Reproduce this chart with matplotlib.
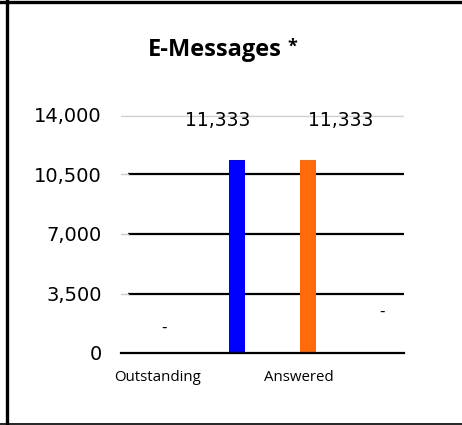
import matplotlib
matplotlib.use("Agg")
import matplotlib.pyplot as plt
from matplotlib.lines import Line2D

# ---- data ----
categories = ["Outstanding", "Answered"]
series_names = ["Outstanding", "Blue", "Orange", "Answered"]
values = [0, 11333, 11333, 0]
value_labels = ["-", "11,333", "11,333", "-"]
bar_colors = ["#0000FF", "#0000FF", "#FF6A0A", "#FF6A0A"]
yticks = [0, 3500, 7000, 10500, 14000]
ytick_labels = ["0", "3,500", "7,000", "10,500", "14,000"]

# ---- layout (positions only) ----
W, H = 462, 425
bar_pos = [0.61, 1.64, 2.64, 3.69]
label_pos = [(0.61, 1530), (1.37, 13650), (3.11, 13650), (3.69, 2470)]
cat_pos = [0.51, 2.52]

fig = plt.figure(figsize=(W / 100, H / 100), dpi=100)
ax = fig.add_axes([121 / W, 72 / H, 283 / W, 238 / H])
ax.set_xlim(0, 4)
ax.set_ylim(0, 14000)

# gridlines
for t in yticks[1:-1]:
    ax.plot([7 / 70.75, 4], [t, t], color="#000000", lw=1.6, zorder=1, solid_capstyle="butt")
    ax.plot([0, 7 / 70.75], [t, t], color="#cccccc", lw=1.0, zorder=1)
ax.plot([0, 4], [14000 + 60, 14000 + 60], color="#d0d0d0", lw=0.9, zorder=1)
ax.plot([0, 4], [14000 - 60, 14000 - 60], color="#d0d0d0", lw=0.9, zorder=1)
ax.plot([0, 4], [0, 0], color="#000000", lw=1.6, zorder=3, clip_on=False)

for i, (p, v) in enumerate(zip(bar_pos, values)):
    if v > 0:
        ax.bar(p, v, width=0.226, color=bar_colors[i], zorder=2)

for (x, y), lab in zip(label_pos, value_labels):
    ax.text(x, y, lab, ha="center", va="center", fontsize=13.5 if lab != "-" else 11,
            family="DejaVu Sans", color="#000000")

for sp in ax.spines.values():
    sp.set_visible(False)
ax.set_yticks(yticks)
ax.set_yticklabels(ytick_labels, fontsize=14, family="DejaVu Sans")
ax.tick_params(axis="y", length=0, pad=14)
ax.set_xticks([])
for x, c in zip(cat_pos, categories):
    ax.text(x, -1450, c, ha="center", va="center", fontsize=10.8, family="Open Sans")

# title
fig.text(215 / W, 1 - 56 / H, "E-Messages", ha="center", va="baseline",
         fontsize=17, fontweight="bold", family="Open Sans")
fig.text(292 / W, 1 - 47 / H, "*", ha="center", va="center",
         fontsize=13, fontweight="bold", family="Open Sans")

# frame lines
fig.add_artist(Line2D([7.5 / W, 7.5 / W], [0, 1], color="black", lw=2.4, transform=fig.transFigure))
fig.add_artist(Line2D([0, 1], [1 - 1.5 / H, 1 - 1.5 / H], color="black", lw=2.4, transform=fig.transFigure))
fig.add_artist(Line2D([0, 1], [1.5 / H, 1.5 / H], color="black", lw=1.2, transform=fig.transFigure))

fig.savefig("out.png", dpi=100)
